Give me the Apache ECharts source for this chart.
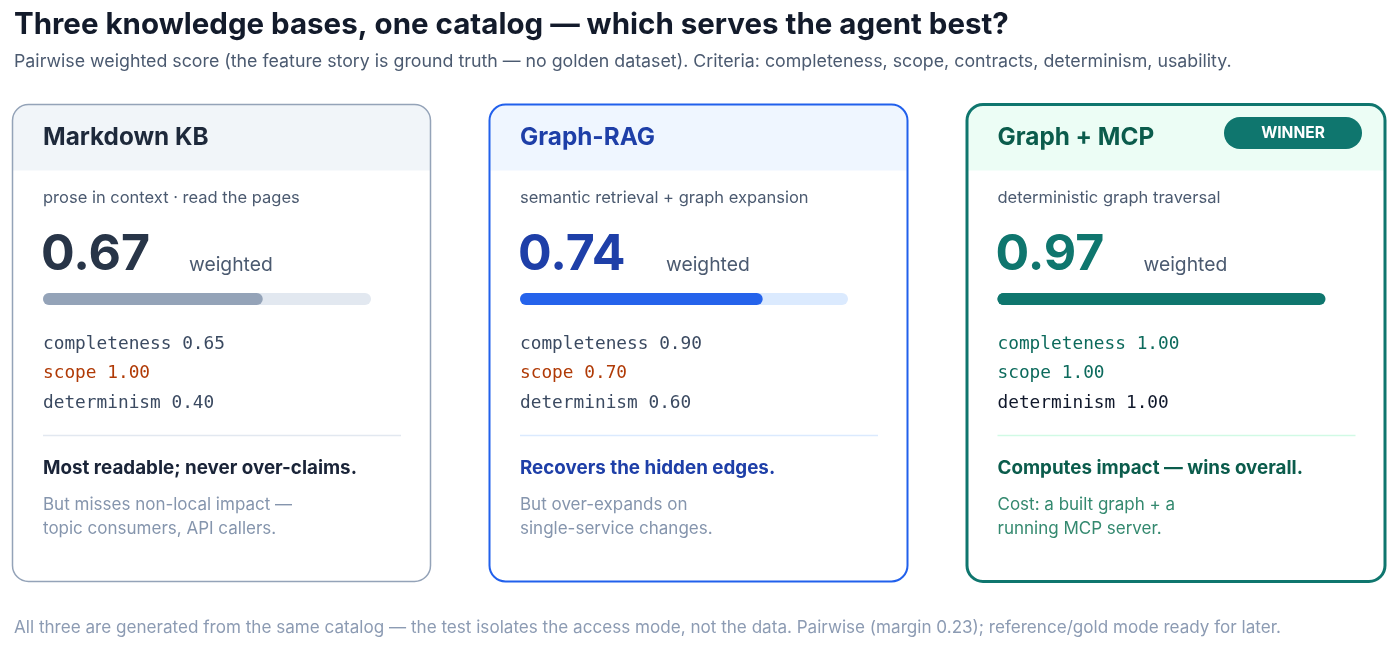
<!DOCTYPE html>
<html>
<head>
    <meta charset="utf-8">
    <title>Three knowledge bases, one catalog</title>
    <script src="https://cdn.jsdelivr.net/npm/echarts@6/dist/echarts.min.js"></script>
    <style>
        body { margin: 0; background: #ffffff; }
    </style>
</head>
<body>
<div id="main" style="width: 1400px;height:646px;"></div>
<script type="text/javascript">

    // ---- data ----
    var kbNames = ['Markdown KB', 'Graph-RAG', 'Graph + MCP'];
    var kbModes = ['prose in context · read the pages', 'semantic retrieval + graph expansion', 'deterministic graph traversal'];
    var weightedScores = [0.67, 0.74, 0.97];
    var metricNames = ['completeness', 'scope', 'determinism'];
    var completeness = [0.65, 0.90, 1.00];
    var scope = [1.00, 0.70, 1.00];
    var determinism = [0.40, 0.60, 1.00];
    var verdicts = ['Most readable; never over-claims.', 'Recovers the hidden edges.', 'Computes impact — wins overall.'];
    var caveats = [
        ['But misses non-local impact —', 'topic consumers, API callers.'],
        ['But over-expands on', 'single-service changes.'],
        ['Cost: a built graph + a', 'running MCP server.']
    ];
    var winnerIndex = 2;

    var titleText = 'Three knowledge bases, one catalog — which serves the agent best?';
    var subText = 'Pairwise weighted score (the feature story is ground truth — no golden dataset). Criteria: completeness, scope, contracts, determinism, usability.';
    var footText = 'All three are generated from the same catalog — the test isolates the access mode, not the data. Pairwise (margin 0.23); reference/gold mode ready for later.';

    // ---- look of each card ----
    var looks = [
        { border: '#94a3b8', bw: 1.5, head: '#f1f5f9', title: '#1e293b', num: '#283548', bar: '#94a3b8', track: '#e2e8f0',
          metric: ['#3b4a61', '#b03a06', '#3b4a61'], rule: '#e2e8f0', bold: '#1a2438', gray: '#8595ad' },
        { border: '#2160ec', bw: 2, head: '#eff6ff', title: '#1e3fa8', num: '#1e3fa8', bar: '#2563eb', track: '#dbeafe',
          metric: ['#3b4a61', '#b03a06', '#3b4a61'], rule: '#dbeafe', bold: '#1e3fa8', gray: '#8595ad' },
        { border: '#0f766e', bw: 3, head: '#ecfdf5', title: '#0b5c4c', num: '#0f766e', bar: '#0f766e', track: '#0f766e',
          metric: ['#0c6a5c', '#0c6a5c', '#0f172a'], rule: '#d1fae5', bold: '#0b5c4c', gray: '#34896f' }
    ];
    var cardX = [12.5, 489.5, 967];
    var cardY = 104.5, cardW = 418, cardH = 477, headH = 66;
    var sans = 'Inter, "Noto Sans", sans-serif';
    var mono = '"DejaVu Sans Mono", monospace';

    function txt(x, y, s, font, color, align) {
        return {
            type: 'text', x: x, y: y, silent: true,
            style: { text: s, font: font, fill: color, textAlign: align || 'left', textVerticalAlign: 'middle' }
        };
    }

    var elements = [];
    elements.push(txt(14, 25, titleText, 'bold 29.5px ' + sans, '#131b2b'));
    elements.push(txt(14, 61.5, subText, '17.8px ' + sans, '#4b5a70'));
    elements.push(txt(14, 627.5, footText, '17.1px ' + sans, '#8c9bb3'));

    var grids = [], xAxes = [], yAxes = [], series = [];
    var metricValues = [completeness, scope, determinism];

    kbNames.forEach(function (name, i) {
        var lk = looks[i];
        var x0 = cardX[i];
        var tx = x0 + 30.5;
        elements.push({ type: 'rect', shape: { x: x0, y: cardY, width: cardW, height: cardH, r: 16 }, style: { fill: '#ffffff' }, silent: true });
        elements.push({ type: 'rect', shape: { x: x0, y: cardY, width: cardW, height: headH, r: [16, 16, 0, 0] }, style: { fill: lk.head }, silent: true });
        elements.push({ type: 'rect', shape: { x: x0, y: cardY, width: cardW, height: cardH, r: 16 }, style: { fill: 'none', stroke: lk.border, lineWidth: lk.bw }, silent: true, z: 5 });

        elements.push(txt(tx, 137.5, name, 'bold 24.3px ' + sans, lk.title));
        if (i === winnerIndex) {
            elements.push({ type: 'rect', shape: { x: 1224, y: 117, width: 138, height: 32, r: 16 }, style: { fill: '#0f766e' }, silent: true });
            elements.push(txt(1293, 133, 'WINNER', 'bold 15.5px ' + sans, '#ffffff', 'center'));
        }
        elements.push(txt(tx, 198, kbModes[i], '16.5px ' + sans, '#4b5a70'));
        elements.push(txt(tx - 2, 254.5, weightedScores[i].toFixed(2), 'bold 50px ' + sans, lk.num));
        elements.push(txt(x0 + 176.5, 265.5, 'weighted', '19.3px ' + sans, '#4b5a70'));

        metricNames.forEach(function (m, k) {
            elements.push(txt(tx, 344 + k * 29.5, m + ' ' + metricValues[k][i].toFixed(2), '17.8px ' + mono, lk.metric[k]));
        });

        elements.push({ type: 'line', shape: { x1: tx, y1: 435.5, x2: tx + 358, y2: 435.5 }, style: { stroke: lk.rule, lineWidth: 1.5 }, silent: true });
        elements.push(txt(tx, 468.5, verdicts[i], 'bold 18.8px ' + sans, lk.bold));
        caveats[i].forEach(function (line, k) {
            elements.push(txt(tx, 505 + k * 24, line, '17px ' + sans, lk.gray));
        });

        // progress bar for the weighted score
        grids.push({ left: tx, top: 293, width: 328, height: 12 });
        xAxes.push({ type: 'value', gridIndex: i, min: 0, max: 1, show: false });
        yAxes.push({ type: 'category', gridIndex: i, data: [name], show: false });
        series.push({
            type: 'bar', xAxisIndex: i, yAxisIndex: i, barWidth: 12, silent: true,
            data: [weightedScores[i]],
            showBackground: true,
            backgroundStyle: { color: lk.track, borderRadius: 6 },
            itemStyle: { color: lk.bar, borderRadius: 6 },
            z: 3
        });
    });

    var myChart = echarts.init(document.getElementById('main'));
    myChart.setOption({
        animation: false,
        grid: grids,
        xAxis: xAxes,
        yAxis: yAxes,
        series: series,
        graphic: { elements: elements }
    });

</script>
</body>
</html>
